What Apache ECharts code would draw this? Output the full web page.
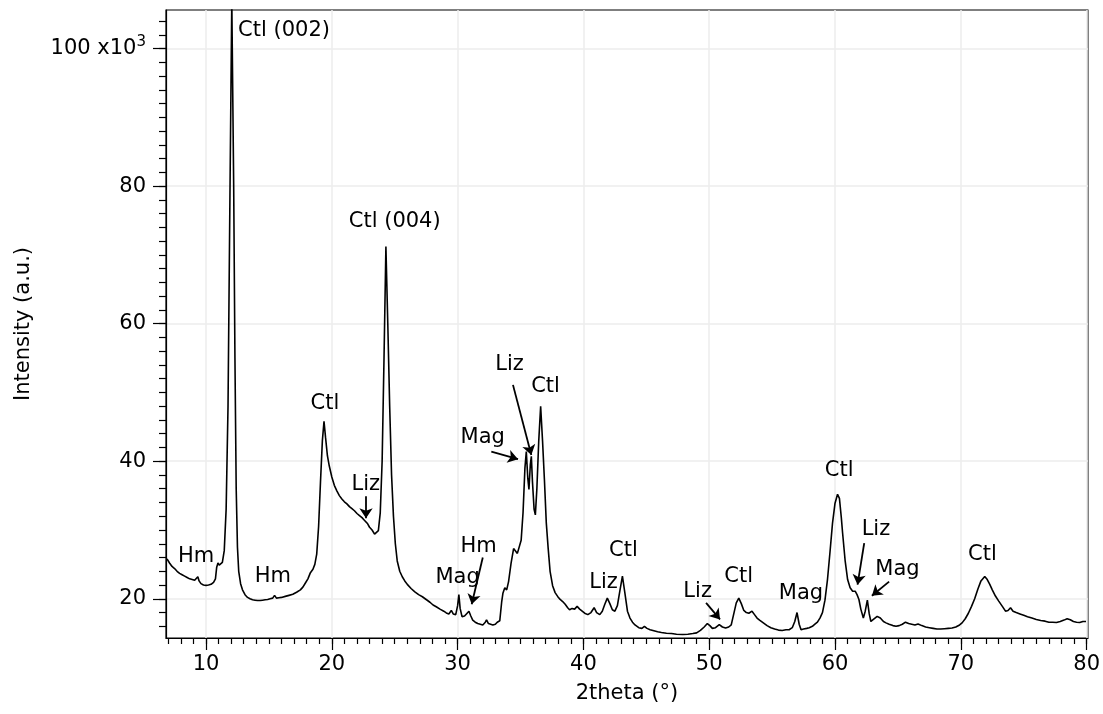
<!DOCTYPE html>
<html>
<head>
<meta charset="utf-8">
<script src="https://cdn.jsdelivr.net/npm/echarts@6/dist/echarts.min.js"></script>
<style>
html,body{margin:0;padding:0;background:#fff;}
#chart{width:1103px;height:714px;}
</style>
</head>
<body>
<div id="chart"></div>
<script>
// 2theta (degrees)
const twoTheta = [
6.9,7.1,7.3,7.5,7.7,7.9,8.1,8.3,8.5,8.7,8.9,9.1,9.25,9.35,9.45,9.6,9.8,10.0,10.2,10.4,10.6,10.75,10.85,10.95,11.05,11.17,11.3,11.45,11.6,11.75,11.9,12.05,12.2,12.3,12.4,12.5,12.6,12.75,12.9,13.1,13.3,13.5,13.7,13.9,14.1,14.3,14.5,14.7,14.9,15.1,15.3,15.45,15.6,15.8,16.0,16.3,16.6,16.9,17.2,17.5,17.7,17.9,18.1,18.3,18.5,18.65,18.8,18.95,19.1,19.25,19.38,19.5,19.65,19.8,20.0,20.2,20.4,20.6,20.8,21.0,21.2,21.4,21.6,21.8,22.0,22.2,22.4,22.55,22.7,22.85,23.0,23.2,23.4,23.55,23.7,23.85,24.0,24.15,24.3,24.45,24.6,24.75,24.9,25.05,25.2,25.4,25.6,25.8,26.0,26.3,26.6,26.9,27.2,27.5,27.8,28.05,28.3,28.6,28.9,29.1,29.3,29.5,29.65,29.85,30.0,30.1,30.2,30.35,30.55,30.7,30.9,31.05,31.2,31.4,31.6,31.8,32.0,32.2,32.3,32.45,32.6,32.8,33.0,33.15,33.35,33.5,33.6,33.75,33.9,34.05,34.25,34.45,34.6,34.75,34.9,35.05,35.2,35.35,35.46,35.58,35.67,35.78,35.86,35.95,36.08,36.18,36.3,36.45,36.6,36.75,36.9,37.05,37.2,37.35,37.55,37.75,37.95,38.15,38.35,38.55,38.75,38.9,39.1,39.3,39.5,39.7,39.9,40.1,40.35,40.6,40.85,41.05,41.3,41.5,41.7,41.9,42.1,42.3,42.5,42.7,42.9,43.1,43.3,43.5,43.7,43.9,44.1,44.4,44.65,44.85,45.05,45.3,45.6,45.9,46.2,46.6,47.0,47.4,47.9,48.3,48.7,49.0,49.3,49.6,49.85,50.05,50.25,50.5,50.8,51.05,51.3,51.55,51.75,51.95,52.15,52.35,52.55,52.75,52.95,53.15,53.4,53.6,53.8,54.0,54.3,54.6,54.9,55.2,55.5,55.8,56.1,56.35,56.6,56.8,56.98,57.15,57.3,57.5,57.75,57.95,58.2,58.4,58.6,58.8,59.0,59.2,59.4,59.6,59.8,60.0,60.2,60.35,60.5,60.6,60.8,61.0,61.2,61.4,61.6,61.75,61.9,62.05,62.25,62.4,62.57,62.72,62.85,63.05,63.35,63.6,63.85,64.05,64.3,64.6,64.85,65.1,65.35,65.6,65.85,66.1,66.35,66.6,66.9,67.2,67.5,67.8,68.1,68.4,68.7,69.0,69.3,69.6,69.9,70.1,70.35,70.6,70.85,71.1,71.35,71.6,71.9,72.1,72.3,72.5,72.75,73.0,73.3,73.55,73.75,73.95,74.15,74.4,74.7,75.0,75.3,75.65,76.0,76.35,76.7,77.0,77.3,77.6,77.9,78.2,78.45,78.7,78.95,79.2,79.45,79.7,79.95
];
// intensity (x10^3 counts)
const intensityK = [
25.8,25.2,24.7,24.4,24.0,23.7,23.5,23.3,23.1,22.9,22.8,22.7,22.9,23.2,22.6,22.2,22.0,21.95,22.0,22.1,22.4,22.9,24.6,25.2,24.9,24.7,25.3,27.0,33,48,78,107,80,55,36,27.5,24,22.2,21.3,20.6,20.2,20.0,19.85,19.8,19.75,19.75,19.8,19.85,19.9,20.0,20.1,20.5,20.1,20.15,20.2,20.35,20.5,20.65,20.95,21.3,21.7,22.3,22.9,23.8,24.3,25.0,26.5,30.5,37,43,45.8,43.5,40.8,39.3,37.7,36.5,35.7,35.0,34.5,34.1,33.8,33.4,33.1,32.8,32.4,32.1,31.8,31.5,31.6,30.9,30.4,30.0,29.4,29.3,29.9,32.5,40,55,71.2,60,48,38,32,28,25.5,24.0,23.2,22.6,22.1,21.5,21.0,20.6,20.3,19.9,19.5,19.1,18.85,18.5,18.2,17.95,17.8,18.3,17.8,17.7,19.0,20.6,18.6,17.4,17.5,17.8,18.2,17.5,16.9,16.6,16.4,16.3,16.2,16.6,16.95,16.4,16.5,16.2,16.3,16.6,16.8,19.5,20.8,21.6,21.3,22.5,25.2,27.3,27.3,26.6,26.5,28.5,32.5,39,41.4,37.5,35.9,39.5,40.7,37,33,32.2,36,43,48.0,43,37.3,31,27.3,24.0,21.9,20.9,20.35,19.9,19.6,19.2,18.7,18.4,18.6,18.5,18.9,18.5,18.2,17.9,17.7,18.0,18.7,18.0,17.7,18.2,19.2,20.1,19.3,18.4,18.2,19.0,21.2,23.3,20.8,18.2,17.2,16.6,16.2,15.8,15.7,16.0,15.7,15.5,15.35,15.2,15.1,15.0,14.95,14.85,14.8,14.85,14.95,15.05,15.4,15.9,16.4,16.1,15.7,15.8,16.25,15.9,15.75,15.9,16.2,17.8,19.4,20.1,19.3,18.3,18.0,17.9,18.2,17.7,17.2,16.9,16.5,16.1,15.8,15.6,15.45,15.4,15.5,15.5,15.8,16.7,18.0,16.3,15.5,15.6,15.7,15.8,16.0,16.3,16.6,17.2,18.0,19.8,22.8,26.8,31.0,33.9,35.2,34.6,31.8,29.6,25.6,22.8,21.6,21.1,21.1,20.6,19.9,18.5,17.2,18.2,19.8,17.8,16.7,17.0,17.45,17.2,16.7,16.5,16.3,16.1,16.0,16.1,16.3,16.6,16.4,16.3,16.2,16.35,16.1,15.9,15.8,15.7,15.6,15.6,15.65,15.7,15.75,15.9,16.2,16.5,17.1,17.9,18.9,20.0,21.4,22.6,23.25,22.8,22.1,21.3,20.4,19.7,18.9,18.2,18.3,18.7,18.2,18.0,17.8,17.6,17.4,17.2,17.0,16.85,16.75,16.6,16.6,16.55,16.7,16.9,17.1,16.95,16.7,16.6,16.55,16.7,16.7
];

// tick labels
const xTickValues = [10, 20, 30, 40, 50, 60, 70, 80];
const yTickValues = [20, 40, 60, 80, 100];

// peak annotations (text and anchor in data coordinates)
const annText = ['Ctl (002)','Ctl (004)','Ctl','Liz','Hm','Hm','Mag','Hm','Mag','Liz','Ctl','Liz','Ctl','Liz','Ctl','Mag','Ctl','Liz','Mag','Ctl'];
const annX    = [16.2, 25.0, 19.45, 22.7, 9.21, 15.32, 30.0, 31.67, 32.0, 34.13, 36.99, 41.6, 43.18, 49.08, 52.34, 57.29, 60.33, 63.25, 64.96, 71.71];
const annY    = [102.6, 74.8, 48.35, 36.6, 26.1, 23.2, 23.1, 27.6, 43.5, 54.0, 50.8, 22.4, 27.0, 21.1, 23.25, 20.7, 38.65, 30.0, 24.2, 26.4];

// arrows: start and tip in data coordinates
const arrowFromX = [22.72, 32.0, 32.68, 34.4, 49.75, 62.32, 64.3];
const arrowFromY = [34.9, 26.0, 41.4, 51.1, 19.4, 28.1, 22.5];
const arrowToX   = [22.72, 31.12, 34.8, 35.86, 50.86, 61.79, 62.93];
const arrowToY   = [31.7, 19.2, 40.3, 40.9, 17.0, 22.05, 20.45];

const FONT = 'DejaVu Sans';
const FS = 21;
const xMinor = []; for (let v = 7; v <= 80; v++) xMinor.push(v);
const yMinor = []; for (let v = 16; v <= 104; v += 2) yMinor.push(v);

const X_MIN = 6.82, X_MAX = 80.1, Y_MIN = 14.3, Y_MAX = 105.6;

const lineData = twoTheta.map((x, i) => [x, intensityK[i]]);
const annData = annText.map((t, i) => [annX[i], annY[i], t]);
const arrowData = arrowFromX.map((x, i) => [
  { coord: [x, arrowFromY[i]] },
  { coord: [arrowToX[i], arrowToY[i]] }
]);

const chart = echarts.init(document.getElementById('chart'), null, { renderer: 'canvas' });
chart.setOption({
  animation: false,
  backgroundColor: '#fff',
  grid: { left: 166, right: 14, top: 10, bottom: 76, show: true, borderColor: '#000', borderWidth: 1.2, backgroundColor: 'transparent' },
  xAxis: [
    {
      type: 'value', min: X_MIN, max: X_MAX, position: 'bottom',
      name: '2theta (°)', nameLocation: 'middle', nameGap: 45,
      nameTextStyle: { fontFamily: FONT, fontSize: FS, color: '#000' },
      axisLine: { show: true, lineStyle: { color: '#000', width: 1.2 } },
      axisTick: { show: true, inside: false, length: 12, customValues: xTickValues, lineStyle: { color: '#000', width: 1.2 } },
      axisLabel: { show: true, customValues: xTickValues, margin: 16, fontFamily: FONT, fontSize: FS, color: '#000' },
      splitLine: { show: true, lineStyle: { color: '#ededed', width: 1.5 } }
    },
    {
      type: 'value', min: X_MIN, max: X_MAX, position: 'bottom',
      axisLine: { show: false },
      axisTick: { show: true, inside: false, length: 6, customValues: xMinor, lineStyle: { color: '#000', width: 1.2 } },
      axisLabel: { show: false },
      splitLine: { show: false }
    }
  ],
  yAxis: [
    {
      type: 'value', min: Y_MIN, max: Y_MAX, position: 'left',
      name: 'Intensity (a.u.)', nameLocation: 'middle', nameGap: 132,
      nameTextStyle: { fontFamily: FONT, fontSize: FS, color: '#000' },
      axisLine: { show: true, lineStyle: { color: '#000', width: 1.2 } },
      axisTick: { show: true, inside: false, length: 13, customValues: yTickValues, lineStyle: { color: '#000', width: 1.2 } },
      axisLabel: {
        show: true, customValues: yTickValues, margin: 20, fontFamily: FONT, fontSize: FS, color: '#000',
        formatter: v => (v === 100 ? '{n|100 x10}{s|3}' : String(v)),
        rich: {
          n: { fontFamily: FONT, fontSize: FS, color: '#000' },
          s: { fontFamily: FONT, fontSize: 15, color: '#000', verticalAlign: 'bottom', padding: [0, 0, 12, 0] }
        }
      },
      splitLine: { show: true, lineStyle: { color: '#ededed', width: 1.5 } }
    },
    {
      type: 'value', min: Y_MIN, max: Y_MAX, position: 'left',
      axisLine: { show: false },
      axisTick: { show: true, inside: false, length: 7, customValues: yMinor, lineStyle: { color: '#000', width: 1.2 } },
      axisLabel: { show: false },
      splitLine: { show: false }
    }
  ],
  series: [
    {
      type: 'line', data: lineData, xAxisIndex: 0, yAxisIndex: 0,
      showSymbol: false, symbol: 'none', clip: true,
      lineStyle: { color: '#000', width: 1.6 },
      markLine: {
        silent: true, animation: false,
        symbol: ['none', 'arrow'], symbolSize: 10,
        lineStyle: { color: '#000', width: 1.8, type: 'solid', opacity: 1 },
        itemStyle: { color: '#000' },
        label: { show: false },
        emphasis: { disabled: true },
        data: arrowData
      }
    },
    {
      type: 'scatter', data: annData, xAxisIndex: 0, yAxisIndex: 0,
      symbolSize: 1, itemStyle: { color: 'transparent', opacity: 1 }, silent: true,
      label: {
        show: true, position: 'inside', formatter: p => p.value[2],
        fontFamily: FONT, fontSize: FS, color: '#000', opacity: 1,
        textBorderWidth: 0
      }
    }
  ]
});
</script>
</body>
</html>
